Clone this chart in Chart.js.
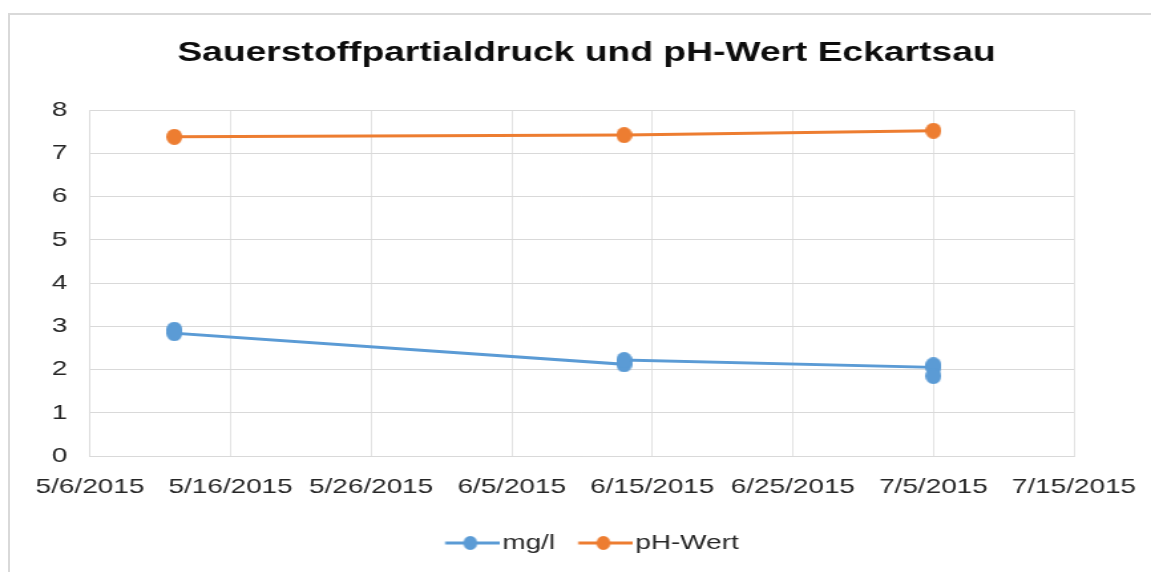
<!DOCTYPE html>
<html>
<head>
<meta charset="utf-8">
<script src="https://cdn.jsdelivr.net/npm/chart.js@4.4.1/dist/chart.umd.min.js"></script>
<style>
  html, body { margin: 0; padding: 0; background: #fff; overflow: hidden; }
  #frame { position: absolute; left: 8px; top: 13px; width: 1200px; height: 600px; border-left: 2px solid #d9d9d9; border-top: 2px solid #d9d9d9; }
  #wrap { position: absolute; left: 0; top: 0; width: 866px; height: 572px; transform: scaleX(1.3291); transform-origin: 0 0; }
</style>
</head>
<body>
<div id="frame"></div>
<div id="wrap"><canvas id="chart" width="866" height="572"></canvas></div>
<script>
const titleText = 'Sauerstoffpartialdruck und pH-Wert Eckartsau';
const seriesNames = ['mg/l', 'pH-Wert'];

const mgDates = ['2015-05-12', '2015-05-12', '2015-06-13', '2015-06-13', '2015-07-05', '2015-07-05', '2015-07-05'];
const mgValues = [2.92, 2.84, 2.12, 2.22, 2.05, 2.1, 1.85];

const phDates = ['2015-05-12', '2015-06-13', '2015-07-05'];
const phValues = [7.38, 7.42, 7.52];

const xStart = '2015-05-06';
const xEnd = '2015-07-15';
const xStepDays = 10;
const yTicks = [0, 1, 2, 3, 4, 5, 6, 7, 8];

const blue = '#5b9bd5';
const orange = '#ed7d31';
const gridColor = '#d9d9d9';
const textColor = '#262626';

// text in the reference is wider than it is tall, so the canvas is stretched in x
Chart.defaults.font.family = 'Arial, "Liberation Sans", sans-serif';

const dayMs = 864e5;
const startMs = Date.parse(xStart + 'T00:00:00Z');
const toDays = s => (Date.parse(s + 'T00:00:00Z') - startMs) / dayMs;
const fmtDate = d =>
{
    const t = new Date(startMs + d * dayMs);
    return (t.getUTCMonth() + 1) + '/' + t.getUTCDate() + '/' + t.getUTCFullYear();
};

// markers: ellipse in canvas units -> round after the stretch
const makeDot = (color,w,h) =>
{
    const c = document.createElement('canvas');
    c.width = w; c.height = h;
    const g = c.getContext('2d');
    g.fillStyle = color;
    g.beginPath();
    g.ellipse(w / 2,h / 2,w / 2,h / 2,0,0,Math.PI * 2);
    g.fill();
    return c;
};

// legend icon: line with a dot
const makeLegendIcon = (color) =>
{
    const c = document.createElement('canvas');
    c.width = 57; c.height = 14;
    const g = c.getContext('2d');
    g.strokeStyle = color;
    g.lineWidth = 3;
    g.beginPath();
    g.moveTo(16.4,7);
    g.lineTo(57,7);
    g.stroke();
    g.fillStyle = color;
    g.beginPath();
    g.ellipse(35.3,7,5.25,7,0,0,Math.PI * 2);
    g.fill();
    return c;
};

const legendIcons = [makeLegendIcon(blue),makeLegendIcon(orange)];

const toPoints = (dates,values) => dates.map((d,i) => ({ x: toDays(d), y: values[i] }));

const ctx = document.getElementById('chart').getContext('2d');
new Chart(ctx,{
    type: 'scatter',
    data: {
        datasets: [{
            label: seriesNames[0],
            data: toPoints(mgDates,mgValues),
            showLine: true,
            borderColor: blue,
            backgroundColor: blue,
            borderWidth: 3,
            tension: 0,
            pointStyle: makeDot(blue,12,16),
            pointRadius: 8
        },{
            label: seriesNames[1],
            data: toPoints(phDates,phValues),
            showLine: true,
            borderColor: orange,
            backgroundColor: orange,
            borderWidth: 3,
            tension: 0,
            pointStyle: makeDot(orange,12,16),
            pointRadius: 8
        }]
    },
    options: {
        responsive: false,
        animation: false,
        layout: { padding: { left: 16.5, right: 0, top: 0, bottom: 8.5 } },
        plugins: {
            title: {
                display: true,
                text: titleText,
                color: '#0d0d0d',
                font: { size: 28, weight: 'bold' },
                padding: { top: 36, bottom: 40.4 }
            },
            legend: {
                position: 'bottom',
                labels: {
                    usePointStyle: true,
                    pointStyleWidth: 40.67,
                    padding: 9.26,
                    color: textColor,
                    font: { size: 21 },
                    generateLabels: chart =>
                        Chart.defaults.plugins.legend.labels.generateLabels(chart)
                            .map((l,i) => ({ ...l, pointStyle: legendIcons[i] }))
                }
            },
            tooltip: { enabled: false }
        },
        scales: {
            x: {
                type: 'linear',
                min: 0,
                max: toDays(xEnd),
                // invisible tick marks push the labels down without widening the side padding
                grid: { color: gridColor, lineWidth: 0.75, drawTicks: true, tickLength: 19, tickColor: 'rgba(0,0,0,0)' },
                border: { color: gridColor, width: 1 },
                ticks: {
                    stepSize: xStepDays,
                    padding: 0,
                    color: textColor,
                    font: { size: 21 },
                    maxRotation: 0,
                    autoSkip: false,
                    callback: v => fmtDate(v)
                },
                afterFit: s => { s.height = 67.2; }
            },
            y: {
                min: yTicks[0],
                max: yTicks[yTicks.length - 1],
                grid: { color: gridColor, lineWidth: 1, drawTicks: false },
                border: { color: gridColor, width: 0.75 },
                ticks: {
                    stepSize: 1,
                    padding: 17,
                    color: textColor,
                    font: { size: 21 }
                },
                afterFit: s => { s.width = 51.22; }
            },
            y2: {
                position: 'right',
                grid: { display: false },
                border: { display: false },
                ticks: { display: false },
                afterFit: s => { s.width = 57.94; }
            }
        }
    }
});
</script>
</body>
</html>
